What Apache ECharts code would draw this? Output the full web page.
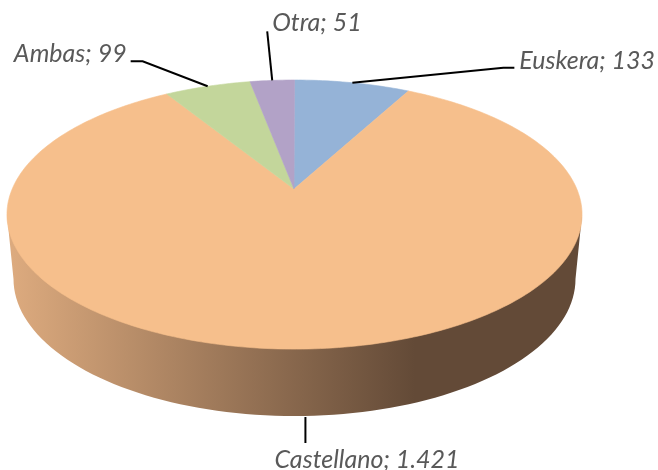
<!DOCTYPE html>
<html>
<head>
<meta charset="utf-8">
<style>html,body{margin:0;padding:0;background:#fff}#c{width:658px;height:470px}</style>
<script src="https://cdn.jsdelivr.net/npm/echarts@6/dist/echarts.min.js"></script>
</head>
<body>
<div id="c"></div>
<script>
const categories = ['Euskera', 'Castellano', 'Ambas', 'Otra'];
const values = [133, 1421, 99, 51];
const tickLabels = ['133', '1.421', '99', '51'];
const colors = ['#95b3d7', '#f6bf8c', '#c3d69b', '#b2a2c7'];

// Perspective disc geometry
const disc = { cx: 294.5, cy: 189, a: 282.3, b: 129.7, k: 0.19 };
const base = { cx: 294.5, cy: 279, rx: 281, ry: 137 };
// Leader line: offsets from rim anchor; label: offset from the line's end
const leaders = [
  { start: [0, 0], elbow: [151, -15], end: [162, -15], label: [5, -7], align: 'left' },
  { start: [0, 68], elbow: [0, 68], end: [0, 94], label: [-31, 17], align: 'left' },
  { start: [0, 0], elbow: [-65, -25], end: [-77, -25], label: [-4, -7], align: 'right' },
  { start: [0, 0], elbow: [-5, -49], end: [-5, -49], label: [5, -8], align: 'left' }
];

const total = values.reduce((s, v) => s + v, 0);
const project = (deg) => {
  const t = deg * Math.PI / 180, u = Math.sin(t), v = -Math.cos(t), w = 1 - disc.k * v;
  return [disc.cx + disc.a * u / w, disc.cy + disc.b * v / w];
};

function renderWall() {
  const pts = [project(259.05), [base.cx - base.rx, base.cy]];
  for (let d = 180; d >= 0; d -= 2) {
    const t = d * Math.PI / 180;
    pts.push([base.cx + base.rx * Math.cos(t), base.cy + base.ry * Math.sin(t)]);
  }
  pts.push(project(100.95));
  return {
    type: 'polygon',
    shape: { points: pts },
    style: {
      fill: new echarts.graphic.LinearGradient(13, 0, 415, 0, [
        { offset: 0, color: '#dcaa7e' },
        { offset: 1, color: '#634a37' }
      ], true)
    }
  };
}

function renderSlice(params, api) {
  const i = params.dataIndex;
  let before = 0;
  for (let j = 0; j < i; j++) before += values[j];
  const start = before / total * 360, sweep = api.value(0) / total * 360;
  const pts = [[disc.cx - 0.5, disc.cy]];
  const n = Math.max(2, Math.ceil(sweep));
  for (let s = 0; s <= n; s++) pts.push(project(start + sweep * s / n));
  const anchor = project(start + sweep / 2);
  const L = leaders[i];
  const P = (o) => [anchor[0] + o[0], anchor[1] + o[1]];
  const end = P(L.end);
  return {
    type: 'group',
    children: [
      { type: 'polygon', shape: { points: pts },
        style: { fill: colors[i], stroke: colors[i], lineWidth: 0.6 }, z2: 1 },
      { type: 'polyline', shape: { points: [P(L.start), P(L.elbow), end] },
        style: { fill: null, stroke: '#000', lineWidth: 2 }, z2: 5 },
      { type: 'text', x: end[0] + L.label[0], y: end[1] + L.label[1], z2: 6,
        style: {
          text: categories[i] + '; ' + tickLabels[i],
          fill: '#595959', font: 'italic 25px Lato',
          align: L.align, verticalAlign: 'middle'
        } }
    ]
  };
}

const chart = echarts.init(document.getElementById('c'), null, { renderer: 'canvas' });
chart.setOption({
  animation: false,
  backgroundColor: '#fff',
  series: [
    { type: 'custom', coordinateSystem: 'none', silent: true, z: 1,
      data: [total], renderItem: renderWall },
    { type: 'custom', coordinateSystem: 'none', silent: true, z: 2,
      data: categories.map((name, i) => ({ name, value: [values[i]] })),
      renderItem: renderSlice }
  ]
});
</script>
</body>
</html>
